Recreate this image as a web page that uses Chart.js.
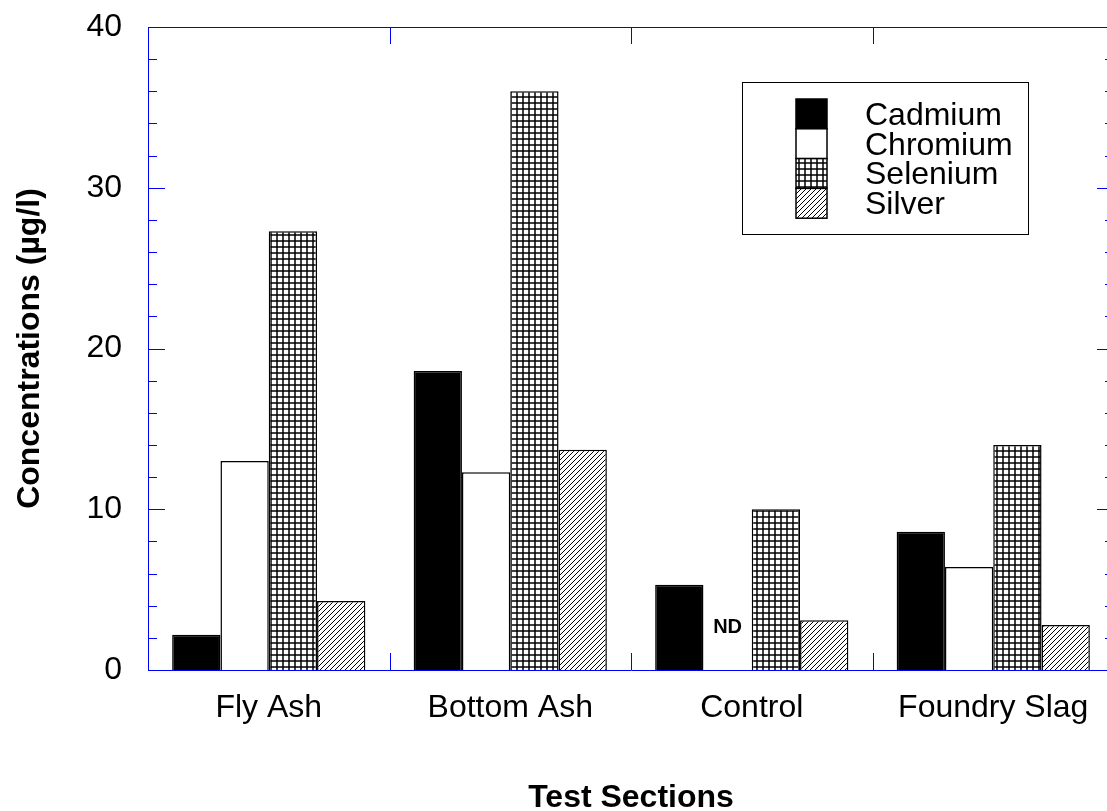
<!DOCTYPE html>
<html><head><meta charset="utf-8">
<script src="https://cdn.jsdelivr.net/npm/chart.js@4/dist/chart.umd.min.js"></script>
<style>html,body{margin:0;padding:0;overflow:hidden;background:#fff}canvas{display:block}</style>
</head><body>
<canvas id="c" width="1122" height="811"></canvas>
<script>
// ---- data ----
const categories = ['Fly Ash', 'Bottom Ash', 'Control', 'Foundry Slag'];
const seriesNames = ['Cadmium', 'Chromium', 'Selenium', 'Silver'];
const cadmium  = [2.2, 18.6, 5.3, 8.6];
const chromium = [13.0, 12.3, 0, 6.4];
const selenium = [27.3, 36.0, 10.0, 14.0];
const silver   = [4.3, 13.7, 3.1, 2.8];
const chromiumNotes = ['', '', 'ND', ''];
const yMin = 0, yMax = 40, yMajorStep = 10, yMinorStep = 2;
const yTitle = 'Concentrations (\u00b5g/l)';
const xTitle = 'Test Sections';

const FONT = '"Liberation Sans", Arial, sans-serif';
const AXIS = '#0000ff';
const canvas = document.getElementById('c');
const ctx = canvas.getContext('2d');

function gridPattern() {
  const t = document.createElement('canvas'); t.width = 6; t.height = 6;
  const g = t.getContext('2d');
  g.fillStyle = '#fff'; g.fillRect(0, 0, 6, 6);
  g.fillStyle = 'rgba(0,0,0,0.75)';
  g.fillRect(0, 0, 6, 2); g.fillRect(0, 0, 2, 6);
  return ctx.createPattern(t, 'repeat');
}
function hatchPattern() {
  const p = 5;
  const t = document.createElement('canvas'); t.width = p; t.height = p;
  const g = t.getContext('2d');
  g.fillStyle = '#fff'; g.fillRect(0, 0, p, p);
  g.strokeStyle = '#000'; g.lineWidth = 1;
  g.beginPath();
  g.moveTo(0, p); g.lineTo(p, 0);
  g.moveTo(-1, 1); g.lineTo(1, -1);
  g.moveTo(p - 1, p + 1); g.lineTo(p + 1, p - 1);
  g.stroke();
  return ctx.createPattern(t, 'repeat');
}
const fills = ['#000000', '#ffffff', gridPattern(), hatchPattern()];
const seriesData = [cadmium, chromium, selenium, silver];

const framePlugin = {
  id: 'frame',
  afterDatasetsDraw(chart) {
    const { ctx, chartArea: a, scales: { x, y } } = chart;
    ctx.save();
    ctx.strokeStyle = AXIS; ctx.lineWidth = 1;
    ctx.beginPath();
    ctx.rect(Math.round(a.left) + 0.5, Math.round(a.top) + 0.5, Math.round(a.right - a.left), Math.round(a.bottom - a.top));
    for (let v = yMin; v <= yMax + 1e-9; v += yMinorStep) {
      const py = Math.round(y.getPixelForValue(v)) + 0.5;
      const len = (Math.abs(v % yMajorStep) < 1e-9) ? 17 : 9;
      ctx.moveTo(a.left, py); ctx.lineTo(a.left + len, py);
      ctx.moveTo(a.right, py); ctx.lineTo(a.right - len, py);
    }
    for (let i = 0; i < categories.length - 1; i++) {
      const px = Math.round((x.getPixelForValue(i) + x.getPixelForValue(i + 1)) / 2) + 0.5;
      ctx.moveTo(px, a.bottom); ctx.lineTo(px, a.bottom - 17);
      ctx.moveTo(px, a.top); ctx.lineTo(px, a.top + 17);
    }
    ctx.stroke();
    // ND notes
    const meta = chart.getDatasetMeta(1);
    ctx.fillStyle = '#000';
    ctx.font = 'bold 20px ' + FONT;
    ctx.textAlign = 'center'; ctx.textBaseline = 'middle';
    chromiumNotes.forEach((n, i) => {
      if (!n) return;
      const el = meta.data[i];
      ctx.fillText(n, el.x, el.base - 43);
    });
    // legend
    const L = { left: 742, top: 82, right: 1028, bottom: 234, sx: 796, sw: 31, sy: 99, sh: 29.8, tx: 865 };
    ctx.fillStyle = '#fff';
    ctx.fillRect(L.left, L.top, L.right - L.left, L.bottom - L.top);
    ctx.strokeStyle = '#000'; ctx.lineWidth = 1;
    ctx.strokeRect(L.left + 0.5, L.top + 0.5, L.right - L.left, L.bottom - L.top);
    ctx.font = '32px ' + FONT;
    ctx.textAlign = 'left'; ctx.textBaseline = 'middle';
    chart.data.datasets.forEach((ds, i) => {
      const yy = L.sy + i * L.sh;
      ctx.fillStyle = ds.backgroundColor;
      ctx.fillRect(L.sx, yy, L.sw, L.sh);
      ctx.strokeStyle = '#000'; ctx.lineWidth = 1.5;
      ctx.strokeRect(L.sx, yy, L.sw, L.sh);
      ctx.fillStyle = '#000';
      ctx.fillText(ds.label, L.tx, yy + L.sh / 2 + 2);
    });
    ctx.restore();
  }
};

new Chart(canvas, {
  type: 'bar',
  data: {
    labels: categories,
    datasets: seriesNames.map((name, i) => ({
      label: name,
      data: seriesData[i],
      backgroundColor: fills[i],
      borderColor: '#000',
      borderWidth: 1.5,
      categoryPercentage: 0.8,
      barPercentage: 1.0
    }))
  },
  options: {
    responsive: false,
    animation: false,
    events: [],
    layout: { padding: { top: 27, right: 8, left: 0, bottom: 0 } },
    plugins: { legend: { display: false }, tooltip: { enabled: false } },
    scales: {
      x: {
        grid: { display: false, drawTicks: false },
        border: { display: false },
        ticks: { color: '#000', font: { family: FONT, size: 32 }, padding: 19, maxRotation: 0, autoSkip: false },
        title: { display: true, text: xTitle, color: '#000', font: { family: FONT, size: 32, weight: 'bold', lineHeight: 1 }, padding: { top: 0, bottom: -3 } },
        afterFit(s) { s.height = 141; s.paddingLeft = 0; s.paddingRight = 0; }
      },
      y: {
        min: yMin, max: yMax,
        grid: { display: false, drawTicks: false },
        border: { display: false },
        ticks: {
          stepSize: yMinorStep, autoSkip: false, color: '#000',
          font: { family: FONT, size: 32 }, padding: 26,
          callback: v => (Math.abs(v % yMajorStep) < 1e-9 ? String(v) : '')
        },
        title: { display: true, text: yTitle, color: '#000', font: { family: FONT, size: 32, weight: 'bold', lineHeight: 1 }, padding: { top: 14, bottom: 0 } },
        afterFit(s) { s.width = 148; s.paddingTop = 0; s.paddingBottom = 0; }
      }
    }
  },
  plugins: [framePlugin]
});
</script>
</body></html>
